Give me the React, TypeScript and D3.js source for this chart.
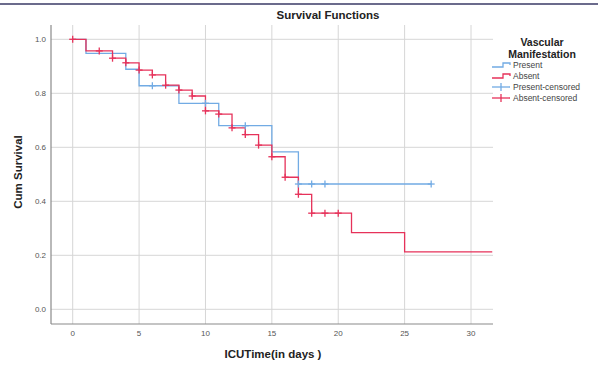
import * as d3 from 'd3'

// Kaplan-Meier steps: [day, cumulative survival after the event]
const presentSteps: [number, number][] = [
  [0, 1.0], [1, 0.948], [4, 0.889], [5, 0.828], [8, 0.763],
  [11, 0.68], [15, 0.583], [17, 0.464],
]
const presentEnd = 27
const presentCensored: [number, number][] = [
  [6, 0.828], [10, 0.763], [13, 0.68], [17, 0.464], [18, 0.464], [19, 0.464], [27, 0.464],
]

const absentSteps: [number, number][] = [
  [0, 1.0], [1, 0.957], [3, 0.93], [4, 0.913], [5, 0.886], [6, 0.868], [7, 0.83],
  [8, 0.812], [9, 0.79], [10, 0.735], [11, 0.723], [12, 0.672], [13, 0.647],
  [14, 0.608], [15, 0.565], [16, 0.489], [17, 0.426], [18, 0.356], [21, 0.284], [25, 0.213],
]
const absentEnd = 31.6
const absentCensored: [number, number][] = [
  [0, 1.0], [2, 0.957], [3, 0.93], [4, 0.913], [5, 0.886], [6, 0.868], [7, 0.83],
  [8, 0.812], [9, 0.79], [10, 0.735], [11, 0.723], [12, 0.672], [13, 0.647],
  [14, 0.608], [15, 0.565], [16, 0.489], [17, 0.426], [18, 0.356], [19, 0.356], [20, 0.356],
]

const xTicks = [0, 5, 10, 15, 20, 25, 30]
const yTicks = [0, 0.2, 0.4, 0.6, 0.8, 1.0]
const legendItems = ['Present', 'Absent', 'Present-censored', 'Absent-censored']

const BLUE = '#72abe4'
const RED = '#e6325a'
const FONT = 'Arial, "Liberation Sans", sans-serif'

export default function App() {
  const width = 609
  const height = 365
  const plot = { left: 51, right: 493, top: 25, bottom: 324 }

  const x = d3.scaleLinear().domain([0, 30]).range([72.7, 471])
  const y = d3.scaleLinear().domain([0, 1]).range([309.3, 39.3])

  const stepPath = (steps: [number, number][], end: number) => {
    const pts: [number, number][] = steps.map(([t, s]) => [x(t), y(s)])
    pts.push([x(end), y(steps[steps.length - 1][1])])
    return d3.line().curve(d3.curveStepAfter)(pts) ?? ''
  }

  const cross = (cx: number, cy: number, color: string, key: string) => (
    <g key={key} stroke={color} strokeWidth={1.3}>
      <line x1={cx - 3.5} x2={cx + 3.5} y1={cy} y2={cy} />
      <line x1={cx} x2={cx} y1={cy - 3.5} y2={cy + 3.5} />
    </g>
  )

  const legendY = (i: number) => 65 + i * 11

  return (
    <svg width={width} height={height} style={{ position: 'absolute', left: 0, top: 0, background: '#fff' }} fontFamily={FONT}>
      <rect x={0} y={0} width={width} height={height} fill="#fff" />
      <line x1={0} x2={598} y1={4} y2={4} stroke="#3a3a66" strokeWidth={1.5} />

      <text x={328} y={19} textAnchor="middle" fontSize={11.5} fontWeight="bold" fill="#222">Survival Functions</text>

      {/* grid */}
      {xTicks.map(t => (
        <line key={'gx' + t} x1={x(t)} x2={x(t)} y1={plot.top} y2={plot.bottom} stroke="#d6d6d6" strokeWidth={1} />
      ))}
      {yTicks.map(t => (
        <line key={'gy' + t} x1={plot.left} x2={plot.right} y1={y(t)} y2={y(t)} stroke="#d6d6d6" strokeWidth={1} />
      ))}

      {/* axes */}
      <line x1={plot.left} x2={plot.left} y1={plot.top} y2={plot.bottom} stroke="#8a8a8a" strokeWidth={1.2} />
      <line x1={plot.left} x2={plot.right} y1={plot.bottom} y2={plot.bottom} stroke="#8a8a8a" strokeWidth={1.2} />

      {xTicks.map(t => (
        <text key={'tx' + t} x={x(t)} y={336} textAnchor="middle" fontSize={8} fill="#555">{t}</text>
      ))}
      {yTicks.map(t => (
        <text key={'ty' + t} x={46} y={y(t) + 3} textAnchor="end" fontSize={8} fill="#555">{t.toFixed(1)}</text>
      ))}

      <text x={273} y={358} textAnchor="middle" fontSize={11.5} fontWeight="bold" fill="#222">ICUTime(in days )</text>
      <text transform={`translate(22,172) rotate(-90)`} textAnchor="middle" fontSize={11.5} fontWeight="bold" fill="#222">Cum Survival</text>

      {/* curves */}
      <path d={stepPath(presentSteps, presentEnd)} fill="none" stroke={BLUE} strokeWidth={1.3} />
      <path d={stepPath(absentSteps, absentEnd)} fill="none" stroke={RED} strokeWidth={1.3} />
      {presentCensored.map(([t, s], i) => cross(x(t), y(s), BLUE, 'pc' + i))}
      {absentCensored.map(([t, s], i) => cross(x(t), y(s), RED, 'ac' + i))}

      {/* legend */}
      <text x={542} y={46} textAnchor="middle" fontSize={10.5} fontWeight="bold" fill="#222">Vascular</text>
      <text x={542} y={58} textAnchor="middle" fontSize={10.5} fontWeight="bold" fill="#222">Manifestation</text>
      {legendItems.map((name, i) => {
        const ly = legendY(i)
        const color = i % 2 === 0 ? BLUE : RED
        return (
          <g key={name}>
            {i < 2 ? (
              <path d={`M492,${ly + 2}H503V${ly - 2}H510V${ly}`} fill="none" stroke={color} strokeWidth={1.3} />
            ) : (
              <g stroke={color} strokeWidth={1.3}>
                <line x1={492} x2={510} y1={ly} y2={ly} />
                <line x1={501} x2={501} y1={ly - 4} y2={ly + 4} />
              </g>
            )}
            <text x={513} y={ly + 3} fontSize={8.5} fill="#444">{name}</text>
          </g>
        )
      })}
    </svg>
  )
}
